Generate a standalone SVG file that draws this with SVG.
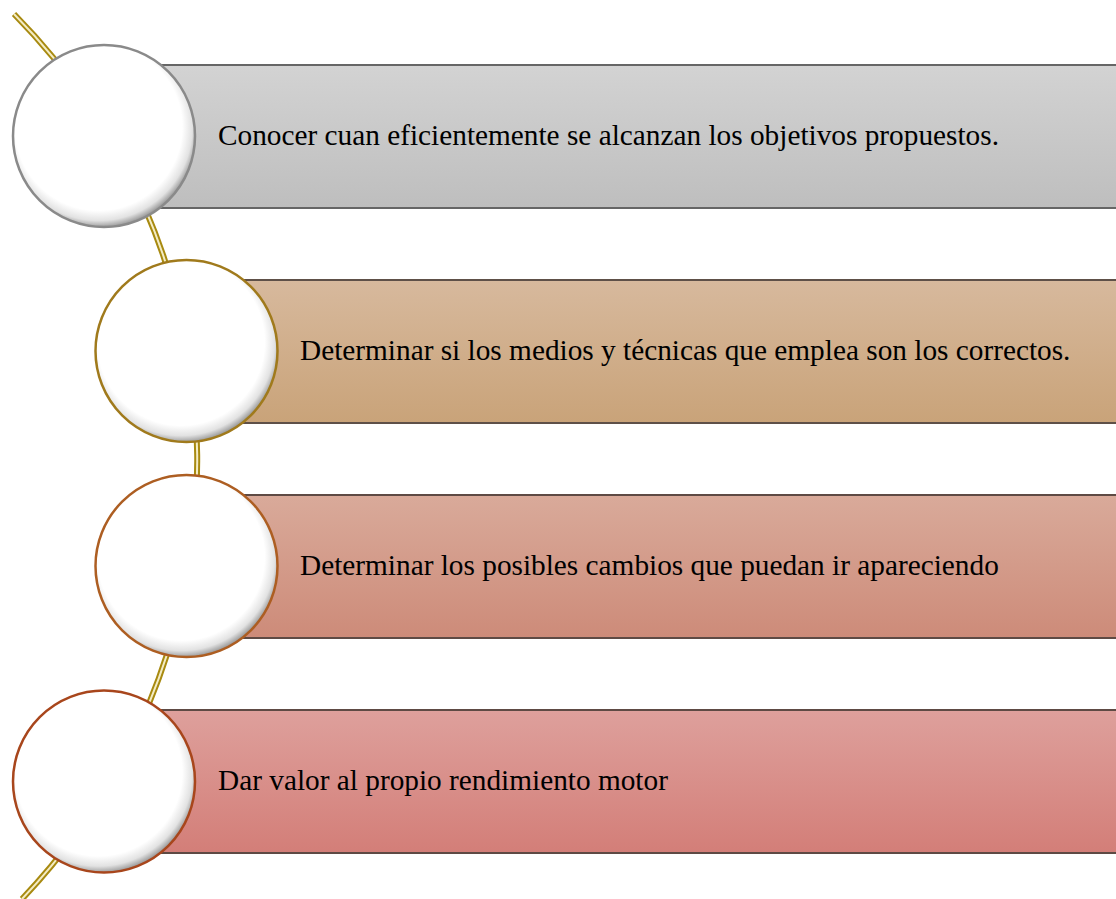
<svg xmlns="http://www.w3.org/2000/svg" width="1116" height="899" viewBox="0 0 1116 899">
<defs>
<linearGradient id="g1" x1="0" y1="0" x2="0" y2="1"><stop offset="0" stop-color="#d3d3d3"/><stop offset="1" stop-color="#bebebe"/></linearGradient>
<linearGradient id="g2" x1="0" y1="0" x2="0" y2="1"><stop offset="0" stop-color="#d7b99d"/><stop offset="1" stop-color="#c9a379"/></linearGradient>
<linearGradient id="g3" x1="0" y1="0" x2="0" y2="1"><stop offset="0" stop-color="#d9aa9a"/><stop offset="1" stop-color="#cd8b79"/></linearGradient>
<linearGradient id="g4" x1="0" y1="0" x2="0" y2="1"><stop offset="0" stop-color="#dea09c"/><stop offset="1" stop-color="#d37e78"/></linearGradient>
<radialGradient id="bevel" cx="0.47" cy="0.45" r="0.56">
<stop offset="0" stop-color="#ffffff"/>
<stop offset="0.82" stop-color="#ffffff"/>
<stop offset="0.92" stop-color="#e2e2e2"/>
<stop offset="1" stop-color="#8c8c8c"/>
</radialGradient>
<style>
.bar{stroke-width:2}
.lbl{font-family:"Liberation Serif","Times New Roman",serif;font-size:29.3px;fill:#000}
.node{fill:url(#bevel);stroke-width:2.5}
.rail{fill:none;stroke:#a88a10;stroke-width:6}
.rail2{fill:none;stroke:#f4ecc4;stroke-width:2}
</style>
</defs>
<g id="connectors">
<path class="rail" d="M 14 14 A 636 636 0 0 1 22 899"/>
<path class="rail2" d="M 14 14 A 636 636 0 0 1 22 899"/>
</g>
<g id="node1">
<rect class="bar" x="150" y="65" width="980" height="143" fill="url(#g1)" stroke="#666666"/>
<circle class="node" cx="104" cy="136" r="91" stroke="#8a8a8a"/>
<text class="lbl" x="218" y="145">Conocer cuan eficientemente se alcanzan los objetivos propuestos.</text>
</g>
<g id="node2">
<rect class="bar" x="230" y="280" width="900" height="143" fill="url(#g2)" stroke="#5e5048"/>
<circle class="node" cx="186.5" cy="351" r="91" stroke="#a07a1c"/>
<text class="lbl" x="300" y="360">Determinar si los medios y técnicas que emplea son los correctos.</text>
</g>
<g id="node3">
<rect class="bar" x="230" y="495" width="900" height="143" fill="url(#g3)" stroke="#5e4a44"/>
<circle class="node" cx="186.5" cy="566" r="91" stroke="#ad5e22"/>
<text class="lbl" x="300" y="575">Determinar los posibles cambios que puedan ir apareciendo</text>
</g>
<g id="node4">
<rect class="bar" x="150" y="710" width="980" height="143" fill="url(#g4)" stroke="#5e4a44"/>
<circle class="node" cx="104" cy="781.5" r="91" stroke="#a8461c"/>
<text class="lbl" x="218" y="790">Dar valor al propio rendimiento motor</text>
</g>
</svg>
